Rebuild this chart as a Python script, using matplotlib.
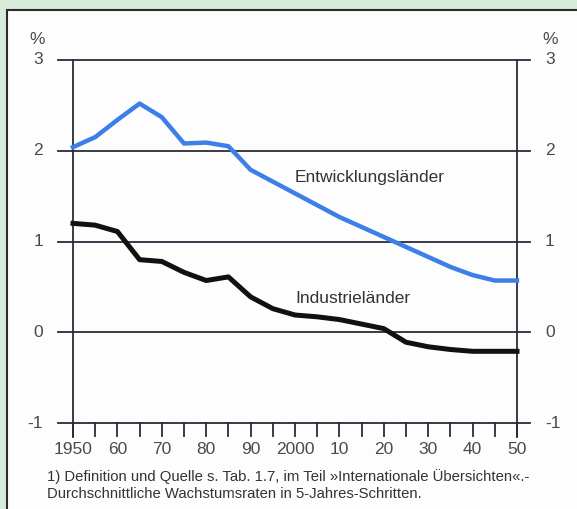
import matplotlib
matplotlib.use("Agg")
import matplotlib.pyplot as plt
from matplotlib.patches import Rectangle

# Daten: durchschnittliche Wachstumsraten in 5-Jahres-Schritten
jahre = list(range(1950, 2051, 5))
entwicklungslaender = [2.04, 2.15, 2.34, 2.52, 2.37, 2.08, 2.09, 2.05, 1.79, 1.66, 1.53,
                       1.40, 1.27, 1.16, 1.05, 0.94, 0.83, 0.72, 0.63, 0.57, 0.57]
industrielaender = [1.20, 1.18, 1.11, 0.80, 0.78, 0.66, 0.57, 0.61, 0.39, 0.26, 0.19,
                    0.17, 0.14, 0.09, 0.04, -0.11, -0.16, -0.19, -0.21, -0.21, -0.21]
y_werte = [3, 2, 1, 0, -1]
x_labels = ["1950", "60", "70", "80", "90", "2000", "10", "20", "30", "40", "50"]
fussnote = ["1) Definition und Quelle s. Tab. 1.7, im Teil \u00bbInternationale \u00dcbersichten\u00ab.-",
            "Durchschnittliche Wachstumsraten in 5-Jahres-Schritten."]

plt.rcParams["font.family"] = ["Liberation Sans", "DejaVu Sans"]

W, H = 577, 509
fig = plt.figure(figsize=(W / 100, H / 100), dpi=100)
fig.patch.set_facecolor("#d7ebd9")

# weisser Kasten mit Rahmen
fig.patches.append(Rectangle((7 / W, -0.1), 1.2, 1.1 - 10 / H, transform=fig.transFigure,
                             facecolor="#fcfdfc", edgecolor="#2b2b2b", linewidth=1.5,
                             zorder=-5))

ax = fig.add_axes([73 / W, 1 - 423 / H, 444 / W, 363 / H])
ax.set_xlim(1950, 2050)
ax.set_ylim(-1, 3)
ax.axis("off")

px_x = 100 / 444
px_y = 4 / 363
line_col = "#2a2a3a"
text_col = "#4a4a4a"

# horizontale Linien
for y in y_werte:
    ax.plot([1950 - 15 * px_x, 2050 + 13 * px_x], [y, y], color=line_col, lw=1.3,
            clip_on=False, zorder=1)

# senkrechte Linien links und rechts
for x in (1950, 2050):
    ax.plot([x, x], [3, -1 - 14 * px_y], color=line_col, lw=1.3, clip_on=False, zorder=1)

# Striche unten
for x in jahre:
    ax.plot([x, x], [-1, -1 - 13 * px_y], color=line_col, lw=1.3, clip_on=False, zorder=1)

ax.plot(jahre, entwicklungslaender, color="#3d7fe8", lw=3.2, solid_joinstyle="round",
        zorder=3, clip_on=False)
ax.plot(jahre, industrielaender, color="#111111", lw=3.6, solid_joinstyle="round",
        zorder=3, clip_on=False)

# Achsenbeschriftung
for y in y_werte:
    ax.text(1950 - 30 * px_x, y, str(y), ha="right", va="center", fontsize=12.5,
            color=text_col, clip_on=False)
    ax.text(2050 + 28 * px_x, y, str(y), ha="left", va="center", fontsize=12.5,
            color=text_col, clip_on=False)
ax.text(1950 - 36 * px_x, 3 + 20 * px_y, "%", ha="center", va="center", fontsize=12.5,
        color=text_col, clip_on=False)
ax.text(2050 + 33 * px_x, 3 + 20 * px_y, "%", ha="center", va="center", fontsize=12.5,
        color=text_col, clip_on=False)

for x, lab in zip(range(1950, 2051, 10), x_labels):
    ax.text(x, -1 - 27 * px_y, lab, ha="center", va="center", fontsize=12.5,
            color=text_col, clip_on=False)

ax.text(2000, 1.71, "Entwicklungsl\u00e4nder", ha="left", va="center", fontsize=12.5,
        color="#333333")
ax.text(2000, 0.375, "Industriel\u00e4nder", ha="left", va="center", fontsize=12.5,
        color="#333333")

fig.text(47 / W, 1 - 477 / H, fussnote[0], ha="left", va="center", fontsize=10.7,
         color="#333333")
fig.text(47 / W, 1 - 494 / H, fussnote[1], ha="left", va="center", fontsize=10.7,
         color="#333333")

fig.savefig("out.png", dpi=100, facecolor=fig.get_facecolor())
